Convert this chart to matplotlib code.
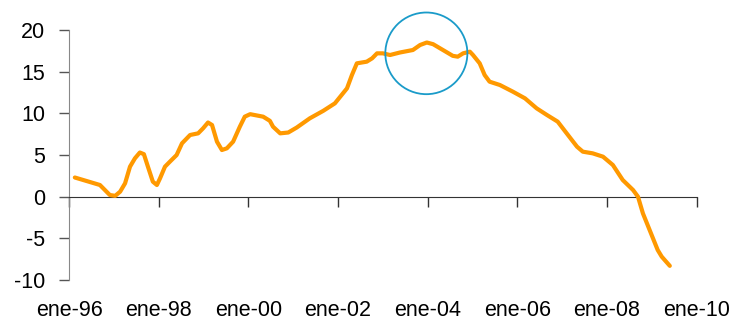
import matplotlib.pyplot as plt
from matplotlib.patches import Ellipse
from matplotlib.transforms import blended_transform_factory

plt.rcParams['font.family'] = ['Liberation Sans', 'DejaVu Sans']
plt.rcParams['axes.unicode_minus'] = False

# fecha (año decimal) y variación interanual (%)
fechas = [1996.13, 1996.69, 1996.91, 1997.03, 1997.14, 1997.25, 1997.36, 1997.47,
          1997.58, 1997.67, 1997.76, 1997.87, 1997.96, 1998.03, 1998.14, 1998.25,
          1998.40, 1998.52, 1998.70, 1998.88, 1998.99, 1999.10, 1999.19, 1999.30,
          1999.41, 1999.52, 1999.66, 1999.81, 1999.92, 2000.04, 2000.33, 2000.48,
          2000.55, 2000.71, 2000.89, 2001.08, 2001.37, 2001.67, 2001.93, 2002.20,
          2002.31, 2002.42, 2002.64, 2002.76, 2002.87, 2003.00, 2003.16, 2003.38,
          2003.67, 2003.83, 2003.98, 2004.12, 2004.34, 2004.56, 2004.67, 2004.79,
          2004.94, 2005.01, 2005.16, 2005.27, 2005.38, 2005.61, 2005.90, 2006.17,
          2006.43, 2006.66, 2006.90, 2007.10, 2007.33, 2007.46, 2007.68, 2007.91,
          2008.13, 2008.35, 2008.58, 2008.69, 2008.80, 2008.95, 2009.13, 2009.22,
          2009.40]
valores = [2.3, 1.4, 0.2, 0.1, 0.6, 1.6, 3.6, 4.6,
           5.3, 5.1, 3.6, 1.8, 1.4, 2.2, 3.6, 4.2,
           5.0, 6.4, 7.4, 7.6, 8.2, 8.9, 8.6, 6.6,
           5.6, 5.8, 6.6, 8.4, 9.6, 9.9, 9.6, 9.1,
           8.4, 7.6, 7.7, 8.3, 9.4, 10.3, 11.2, 13.0,
           14.6, 16.0, 16.2, 16.6, 17.2, 17.2, 17.0, 17.3,
           17.6, 18.2, 18.5, 18.3, 17.6, 16.9, 16.8, 17.2,
           17.4, 17.0, 16.0, 14.6, 13.8, 13.4, 12.6, 11.8,
           10.6, 9.8, 9.0, 7.6, 6.0, 5.4, 5.2, 4.8,
           3.8, 2.0, 0.8, 0.0, -2.0, -4.0, -6.4, -7.2,
           -8.3]

anios = [1996, 1998, 2000, 2002, 2004, 2006, 2008, 2010]
etiquetas = ['ene-96', 'ene-98', 'ene-00', 'ene-02', 'ene-04', 'ene-06', 'ene-08', 'ene-10']

fig = plt.figure(figsize=(7.35, 3.23), dpi=100)
ax = fig.add_axes([0.0939, 0.1331, 0.854, 0.774])

ax.plot(fechas, valores, color='#FF9900', lw=3, solid_joinstyle='round',
        solid_capstyle='round', zorder=3)

# círculo que resalta el máximo de 2004
ax.add_patch(Ellipse((2003.97, 17.2), width=1.83, height=9.8, fill=False,
                     edgecolor='#1A9BC9', lw=1.3, zorder=4, clip_on=False))

ax.set_xlim(1996, 2010)
ax.set_ylim(-10, 20)
ax.set_yticks(range(-10, 21, 5))
ax.set_xticks(anios)
ax.set_xticklabels([])

for s in ['top', 'right']:
    ax.spines[s].set_visible(False)
ax.spines['bottom'].set_position(('data', 0))
ax.spines['bottom'].set_color('#333333')
ax.spines['left'].set_color('#888888')
ax.tick_params(axis='y', direction='out', length=7, width=1, color='#555555',
               labelsize=15.5, pad=10)
ax.tick_params(axis='x', direction='out', length=7, width=1, color='#333333')

# etiquetas de fecha debajo del gráfico
trans = blended_transform_factory(ax.transData, ax.transAxes)
for a, t in zip(anios, etiquetas):
    ax.annotate(t, (a, 0), xycoords=trans, xytext=(0, -20),
                textcoords='offset pixels', ha='center', va='top', fontsize=15.5)

fig.savefig('out.png', dpi=100)
